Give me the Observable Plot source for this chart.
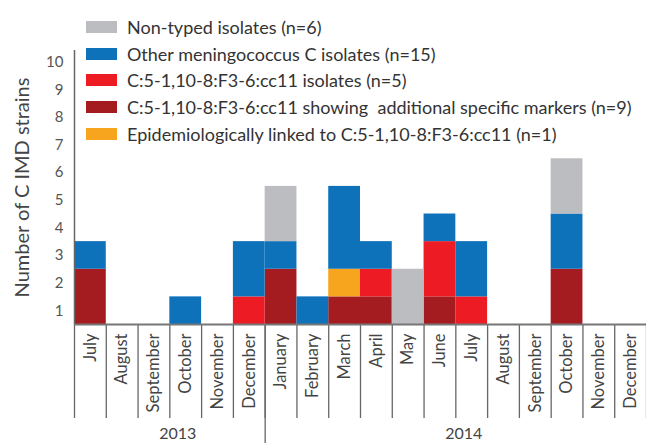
<!DOCTYPE html>
<html><head><meta charset="utf-8">
<script src="https://cdn.jsdelivr.net/npm/d3@7"></script>
<script src="https://cdn.jsdelivr.net/npm/@observablehq/plot@0.6"></script>
<style>
body{margin:0;background:#fff;}
#wrap{position:relative;width:646px;height:446px;font-family:Lato,sans-serif;overflow:hidden;}
#legend{position:absolute;left:86px;top:14px;}
.row{display:flex;align-items:center;height:26.6px;font-size:18px;color:#333;white-space:pre;}
.sw{width:31px;height:12px;margin-right:10px;flex:none;}
</style></head>
<body><div id="wrap"><div id="chart"></div><div id="legend"></div></div>
<script>
const months = ["July","August","September","October","November","December","January","February","March","April","May","June","July","August","September","October","November","December"];
const monthYear = ["2013","2013","2013","2013","2013","2013","2014","2014","2014","2014","2014","2014","2014","2014","2014","2014","2014","2014"];
const years = ["2013","2014"];
const yTicks = [1,2,3,4,5,6,7,8,9,10];

// series, bottom to top
const seriesNames = [
  "C:5-1,10-8:F3-6:cc11 showing  additional specific markers",
  "C:5-1,10-8:F3-6:cc11 isolates",
  "Epidemiologically linked to C:5-1,10-8:F3-6:cc11",
  "Other meningococcus C isolates",
  "Non-typed isolates"
];
const seriesColors = ["#a51c20","#ed1c24","#f7a51f","#0e72ba","#bcbdc0"];
const markers   = [2,0,0,0,0,0,2,0,1,1,0,1,0,0,0,2,0,0];
const isolates  = [0,0,0,0,0,1,0,0,0,1,0,2,1,0,0,0,0,0];
const epiLinked = [0,0,0,0,0,0,0,0,1,0,0,0,0,0,0,0,0,0];
const other     = [1,0,0,1,0,2,1,1,3,1,0,1,2,0,0,2,0,0];
const nonTyped  = [0,0,0,0,0,0,2,0,0,0,2,0,0,0,0,2,0,0];
const seriesValues = [markers, isolates, epiLinked, other, nonTyped];
const legendOrder = [4,3,1,0,2];

const table = [];
seriesValues.forEach((vals, s) => vals.forEach((v, i) => {
  if (v > 0) table.push({i, i1: i + 1, series: seriesNames[s], value: v});
}));

const yearMid = years.map(y => {
  const idx = monthYear.map((m, i) => m === y ? i : -1).filter(i => i >= 0);
  return {year: y, x: (idx[0] + idx[idx.length - 1] + 1) / 2};
});
const yearBreaks = years.slice(1).map(y => monthYear.indexOf(y));

const chart = Plot.plot({
  width: 646, height: 446,
  marginLeft: 74, marginRight: 0, marginTop: 50, marginBottom: 122,
  style: {fontFamily: "Lato, sans-serif", background: "#fff", overflow: "visible"},
  x: {domain: [0, months.length], axis: null},
  y: {domain: [0, 9.92], axis: null},
  color: {domain: seriesNames, range: seriesColors},
  marks: [
    Plot.rect(table, Plot.stackY({x1: "i", x2: "i1", y: "value", fill: "series", order: seriesNames})),
    Plot.axisY({ticks: yTicks.map(k => k - 0.5), tickFormat: d => String(Math.round(d + 0.5)), tickSize: 0, tickPadding: 11, fontSize: 15, color: "#555", label: null}),
    Plot.axisY({ticks: [], label: "Number of C IMD strains", labelArrow: "none", labelAnchor: "center", labelOffset: 60, fontSize: 20, color: "#444"}),
    Plot.axisX({ticks: d3.range(0, months.length + 1), tickSize: 94, tickFormat: () => "", stroke: "#666", strokeWidth: 1.3, label: null}),
    Plot.axisX({ticks: yearBreaks, tickSize: 119, tickFormat: () => "", stroke: "#666", strokeWidth: 1.3, label: null}),
    Plot.axisX({ticks: d3.range(months.length).map(i => i + 0.5), tickSize: 0, tickPadding: 9, tickRotate: -90, tickFormat: d => months[Math.floor(d)], fontSize: 16.5, color: "#444", label: null}),
    Plot.text(yearMid, {x: "x", text: "year", frameAnchor: "bottom", dy: 114, dx: 8, fontSize: 16, fill: "#444"}),
    Plot.ruleX([0], {stroke: "#666", strokeWidth: 1.5}),
    Plot.ruleY([0], {stroke: "#777", strokeWidth: 2})
  ]
});
document.getElementById("chart").appendChild(chart);

const legend = document.getElementById("legend");
legendOrder.forEach(s => {
  const n = d3.sum(seriesValues[s]);
  const row = document.createElement("div");
  row.className = "row";
  const sw = document.createElement("div");
  sw.className = "sw";
  sw.style.background = seriesColors[s];
  const t = document.createElement("span");
  t.textContent = `${seriesNames[s]} (n=${n})`;
  row.appendChild(sw); row.appendChild(t);
  legend.appendChild(row);
});
</script>
</body></html>
